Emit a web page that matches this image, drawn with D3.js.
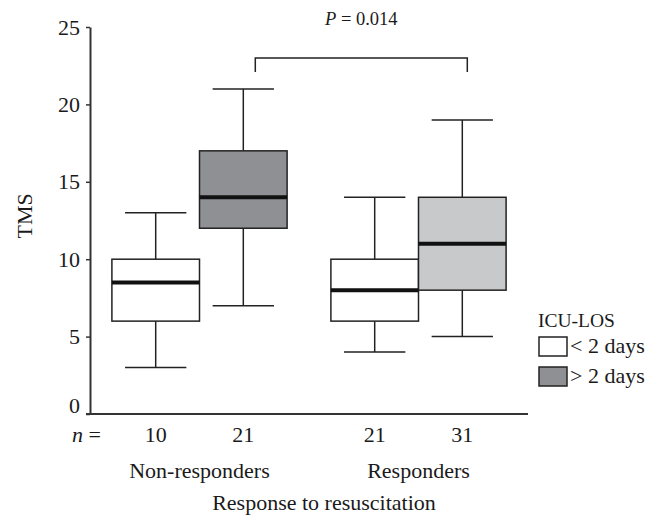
<!DOCTYPE html>
<html>
<head>
<meta charset="utf-8">
<script src="https://cdn.jsdelivr.net/npm/d3@7"></script>
<style>
  body { margin: 0; background: #fff; }
  svg text { font-family: "Liberation Serif", "Times New Roman", serif; fill: #1a1a1a; }
</style>
</head>
<body>
<div id="chart"></div>
<script>
// Chart data
var groups = ["Non-responders", "Responders"];
var losCats = ["< 2 days", "> 2 days"];
var losFill = ["#ffffff", "#8f9094"];
var boxFill = ["#ffffff", "#8f9094", "#ffffff", "#c8c9cb"];
var whiskerLow = [3, 7, 4, 5];
var q1 = [6, 12, 6, 8];
var median = [8.5, 14, 8, 11];
var q3 = [10, 17, 10, 14];
var whiskerHigh = [13, 21, 14, 19];
var nCounts = [10, 21, 21, 31];
var yTicks = [0, 5, 10, 15, 20, 25];
var pLabel = "0.014";

// Build one record per box
var boxes = [];
groups.forEach(function(g, gi) {
    losCats.forEach(function(l, li) {
        var i = gi * 2 + li;
        boxes.push({group: g, los: l, lo: whiskerLow[i], q1: q1[i], med: median[i],
                    q3: q3[i], hi: whiskerHigh[i], n: nCounts[i], fill: boxFill[i]});
    });
});

var width = 651, height = 521;
var margin = {top: 27, right: 123, bottom: 107, left: 90};
var fs = "22px";

var svg = d3.select("#chart").append("svg")
    .attr("width", width)
    .attr("height", height);

var x0 = d3.scaleBand()
    .domain(groups)
    .range([margin.left, width - margin.right]);

var x1 = d3.scaleBand()
    .domain(losCats)
    .range([0, x0.bandwidth()])
    .paddingOuter(0.25);

var y = d3.scaleLinear()
    .domain([0, 25])
    .range([height - margin.bottom, margin.top]);

function boxX(d) { return x0(d.group) + x1(d.los); }
function boxCx(d) { return boxX(d) + x1.bandwidth() / 2; }

// Y axis
var yAxis = svg.append("g")
    .attr("transform", "translate(" + margin.left + ",0)")
    .call(d3.axisLeft(y).tickValues(yTicks).tickSize(4).tickSizeOuter(0).tickPadding(6));
yAxis.select(".domain").attr("stroke", "#333").attr("stroke-width", 2);
yAxis.selectAll(".tick line").attr("stroke", "#333").attr("stroke-width", 1.5);
yAxis.selectAll(".tick text")
    .style("font-family", "Liberation Serif, serif")
    .style("font-size", fs)
    .attr("fill", "#1a1a1a")
    .attr("dy", function(d) { return d === 0 ? "-0.05em" : "0.32em"; });

// X axis baseline
svg.append("line")
    .attr("x1", margin.left - 4)
    .attr("x2", width - margin.right)
    .attr("y1", y(0))
    .attr("y2", y(0))
    .attr("stroke", "#333")
    .attr("stroke-width", 2);

// Boxes
var capW = x1.bandwidth() * 0.7;
var bg = svg.append("g").selectAll("g")
    .data(boxes)
    .enter()
    .append("g");

// whisker stems
bg.append("line")
    .attr("x1", boxCx).attr("x2", boxCx)
    .attr("y1", function(d) { return y(d.hi); })
    .attr("y2", function(d) { return y(d.q3); })
    .attr("stroke", "#222").attr("stroke-width", 1.5);
bg.append("line")
    .attr("x1", boxCx).attr("x2", boxCx)
    .attr("y1", function(d) { return y(d.q1); })
    .attr("y2", function(d) { return y(d.lo); })
    .attr("stroke", "#222").attr("stroke-width", 1.5);
// caps
bg.append("line")
    .attr("x1", function(d) { return boxCx(d) - capW / 2; })
    .attr("x2", function(d) { return boxCx(d) + capW / 2; })
    .attr("y1", function(d) { return y(d.hi); })
    .attr("y2", function(d) { return y(d.hi); })
    .attr("stroke", "#222").attr("stroke-width", 1.5);
bg.append("line")
    .attr("x1", function(d) { return boxCx(d) - capW / 2; })
    .attr("x2", function(d) { return boxCx(d) + capW / 2; })
    .attr("y1", function(d) { return y(d.lo); })
    .attr("y2", function(d) { return y(d.lo); })
    .attr("stroke", "#222").attr("stroke-width", 1.5);
// box
bg.append("rect")
    .attr("x", boxX)
    .attr("width", x1.bandwidth())
    .attr("y", function(d) { return y(d.q3); })
    .attr("height", function(d) { return y(d.q1) - y(d.q3); })
    .attr("fill", function(d) { return d.fill; })
    .attr("stroke", "#222")
    .attr("stroke-width", 1.5);
// median
bg.append("line")
    .attr("x1", boxX)
    .attr("x2", function(d) { return boxX(d) + x1.bandwidth(); })
    .attr("y1", function(d) { return y(d.med); })
    .attr("y2", function(d) { return y(d.med); })
    .attr("stroke", "#111").attr("stroke-width", 4);

// n counts
bg.append("text")
    .attr("x", boxCx)
    .attr("y", y(0) + 28)
    .attr("text-anchor", "middle")
    .style("font-size", fs)
    .text(function(d) { return d.n; });

var nLab = svg.append("text")
    .attr("x", margin.left - 18)
    .attr("y", y(0) + 28)
    .style("font-size", fs);
nLab.append("tspan").style("font-style", "italic").text("n");
nLab.append("tspan").text(" =");

// group labels
svg.append("g").selectAll("text")
    .data(groups)
    .enter()
    .append("text")
    .attr("x", function(d) { return x0(d) + x0.bandwidth() / 2; })
    .attr("y", y(0) + 64)
    .attr("text-anchor", "middle")
    .style("font-size", fs)
    .text(function(d) { return d; });

// axis titles
svg.append("text")
    .attr("x", 324)
    .attr("y", height - 11)
    .attr("text-anchor", "middle")
    .style("font-size", fs)
    .text("Response to resuscitation");

svg.append("text")
    .attr("transform", "translate(32," + y(12.8) + ") rotate(-90)")
    .attr("text-anchor", "middle")
    .style("font-size", fs)
    .text("TMS");

// significance bracket between the two "> 2 days" boxes
var bx1 = boxCx(boxes[1]) + 12, bx2 = boxCx(boxes[3]) + 5;
svg.append("path")
    .attr("d", "M" + bx1 + "," + y(22.1) + "V" + y(23) + "H" + bx2 + "V" + y(22.1))
    .attr("fill", "none")
    .attr("stroke", "#222")
    .attr("stroke-width", 1.5);

var pText = svg.append("text")
    .attr("x", (bx1 + bx2) / 2)
    .attr("y", y(25) - 2)
    .attr("text-anchor", "middle")
    .style("font-size", "18.5px");
pText.append("tspan").style("font-style", "italic").text("P");
pText.append("tspan").text(" = " + pLabel);

// legend
var lg = svg.append("g").attr("transform", "translate(538,327)");
lg.append("text").attr("x", 0).attr("y", 0).style("font-size", "19.5px").text("ICU-LOS");
var li = lg.selectAll("g.item")
    .data(losCats)
    .enter()
    .append("g")
    .attr("class", "item")
    .attr("transform", function(d, i) { return "translate(1," + (10 + i * 30) + ")"; });
li.append("rect")
    .attr("width", 28)
    .attr("height", 19)
    .attr("fill", function(d, i) { return losFill[i]; })
    .attr("stroke", "#222")
    .attr("stroke-width", 1.5);
li.append("text")
    .attr("x", 31)
    .attr("y", 16)
    .style("font-size", fs)
    .text(function(d) { return d; });
</script>
</body>
</html>
